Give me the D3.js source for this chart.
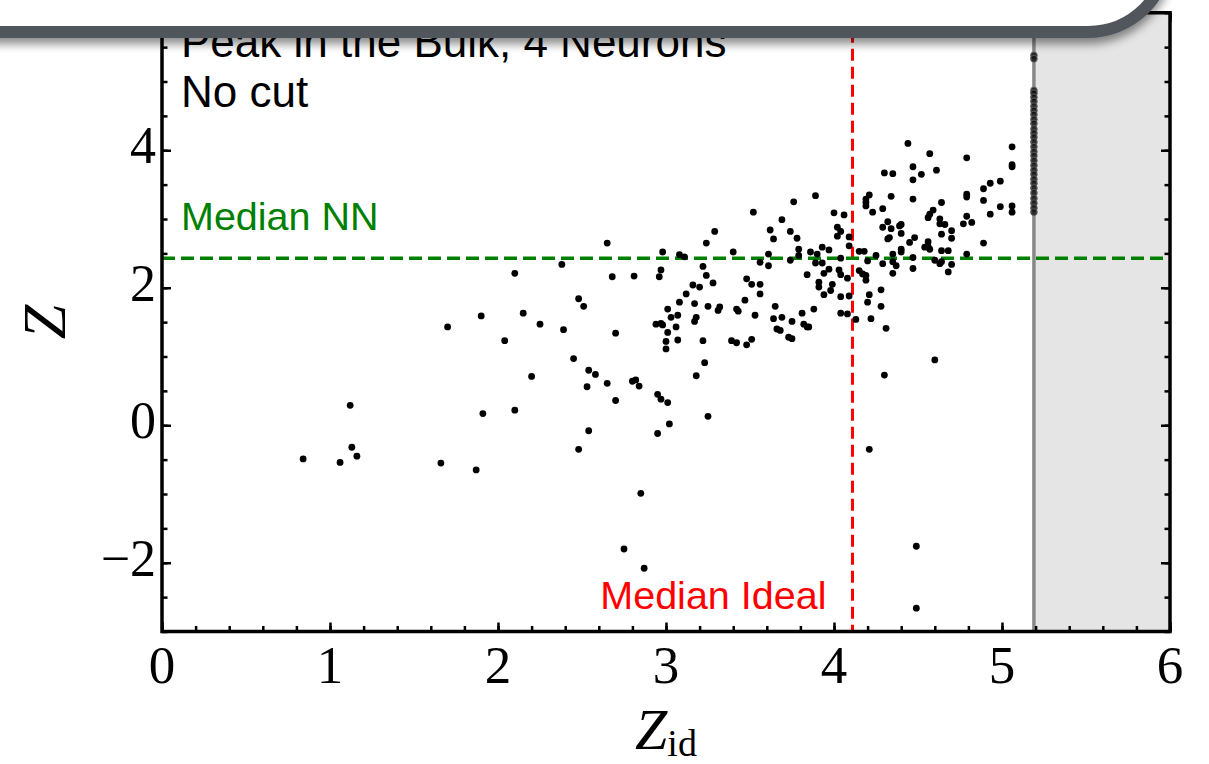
<!DOCTYPE html>
<html>
<head>
<meta charset="utf-8">
<script src="https://cdn.jsdelivr.net/npm/d3@7"></script>
<style>
  html, body { margin: 0; padding: 0; background: #fff; }
  svg { display: block; }
</style>
</head>
<body>
<svg id="chart" width="1209" height="764"></svg>
<script>
// Ideal significance (Z_id) of each sample
const zIdeal = [
  0.84, 1.06, 1.12, 1.13, 1.16, 1.66, 1.70, 1.87, 1.90, 1.91,
  2.45, 2.20, 2.54, 2.58, 2.53, 2.65, 2.80, 2.82, 2.84, 2.70, 2.95, 2.97, 3.01, 2.10,
  3.18, 3.23, 3.25, 3.02, 2.95, 2.54, 2.48, 2.85, 2.75, 2.87, 4.30, 4.21, 4.49, 4.49,
  3.89, 3.76, 3.52, 3.69, 4.00, 4.06, 3.29, 3.62, 3.74, 4.02, 4.04, 4.02, 4.09, 3.64,
  3.78, 4.09, 3.24, 2.65, 3.79, 3.93, 3.97, 2.98, 3.40, 3.86, 3.90, 3.61, 3.08, 3.11,
  3.79, 3.74, 3.56, 3.89, 3.93, 3.61, 4.04, 2.38, 3.22, 2.10, 3.97, 4.03, 3.94, 2.97,
  2.96, 2.68, 2.81, 3.24, 3.48, 3.84, 4.04, 4.08, 3.28, 3.51, 3.56, 3.91, 3.91, 3.99,
  3.16, 3.20, 3.98, 3.94, 3.56, 3.12, 4.04, 4.09, 2.48, 2.51, 3.47, 3.08, 3.17, 3.25,
  3.32, 3.31, 3.65, 3.42, 3.43, 3.88, 3.01, 2.15, 3.81, 4.04, 4.08, 3.53, 3.07, 3.03,
  3.18, 3.17, 3.64, 3.69, 3.75, 2.25, 2.94, 2.97, 2.98, 3.06, 3.82, 3.84, 3.85, 2.39,
  3.66, 3.68, 2.70, 3.01, 2.04, 3.00, 3.07, 3.22, 3.39, 3.42, 3.51, 3.48, 3.73, 3.75,
  3.00,
  4.44, 4.57, 5.06, 4.79, 4.47, 5.06, 5.06, 4.61, 4.30, 4.35, 4.52, 4.47, 4.99, 4.93,
  4.89, 4.79, 4.79, 4.21, 4.19, 4.34, 4.47, 4.19, 4.19, 4.64, 4.89, 4.99, 5.06, 5.06,
  4.29, 4.23, 4.59, 4.57, 4.56, 4.93, 4.79, 4.63, 4.32, 4.40, 4.39, 4.63, 4.66, 4.82,
  4.77, 4.29, 4.34, 4.70, 4.40, 4.64, 4.33, 4.32, 4.48, 4.70, 4.45, 4.89, 4.56, 4.56,
  4.54, 4.57, 4.40, 4.15, 4.18, 4.40, 4.64, 4.68, 4.35, 4.79, 4.25, 4.47, 4.20, 4.29,
  4.35, 4.37, 4.60, 4.63, 4.64, 4.70, 4.47, 4.15, 4.17, 4.19, 4.19, 4.35, 4.68, 4.28,
  4.21, 4.20, 4.28, 4.13, 4.22, 4.31, 4.60
];

// Significance reached by the network (Z) for the same samples
const zNet = [
  -0.49, -0.54, 0.29, -0.32, -0.45, -0.55, 1.43, -0.65, 1.59, 0.17,
  0.97, 0.71, 0.80, 0.74, 0.56, 0.61, 0.64, 0.66, 0.57, 0.36, 0.45, 0.38, 0.33, 0.22,
  0.72, 0.91, 0.13, 0.02, -0.12, -0.08, -0.35, -0.99, -1.80, -2.08, 0.73, -0.35, -1.76, -2.66,
  3.34, 3.25, 3.10, 2.99, 3.09, 3.06, 2.82, 2.84, 2.82, 2.88, 2.82, 2.75, 2.74, 2.71,
  2.72, 2.61, 2.65, 2.65, 2.56, 2.59, 2.55, 2.52, 2.52, 2.52, 2.49, 2.49, 2.48, 2.45,
  2.47, 2.40, 2.37, 2.36, 2.36, 2.32, 2.43, 2.34, 2.31, 2.21, 2.27, 2.26, 2.21, 2.26,
  2.16, 2.16, 2.17, 2.18, 2.13, 2.19, 2.19, 2.14, 2.07, 2.05, 2.05, 2.08, 2.01, 2.05,
  2.04, 2.01, 1.96, 1.90, 1.91, 1.91, 1.87, 1.88, 1.84, 1.73, 1.82, 1.79, 1.77, 1.73,
  1.72, 1.67, 1.73, 1.69, 1.66, 1.69, 1.69, 1.63, 1.63, 1.63, 1.62, 1.60, 1.60, 1.57,
  1.57, 1.51, 1.55, 1.57, 1.51, 1.47, 1.47, 1.48, 1.46, 1.43, 1.47, 1.43, 1.43, 1.39,
  1.40, 1.38, 1.34, 1.35, 1.23, 1.22, 1.24, 1.23, 1.23, 1.20, 1.25, 1.17, 1.28, 1.26,
  1.11,
  4.10, 3.95, 4.05, 3.89, 3.76, 3.79, 3.76, 3.71, 3.67, 3.66, 3.65, 3.57, 3.55, 3.52,
  3.44, 3.36, 3.32, 3.35, 3.29, 3.33, 3.29, 3.24, 3.19, 3.24, 3.27, 3.18, 3.19, 3.10,
  3.15, 3.10, 3.13, 3.07, 3.02, 3.07, 3.04, 3.00, 2.96, 2.92, 2.90, 2.93, 2.92, 2.95,
  2.93, 2.88, 2.86, 2.83, 2.79, 2.78, 2.73, 2.71, 2.73, 2.72, 2.66, 2.65, 2.67, 2.60,
  2.59, 2.56, 2.56, 2.53, 2.53, 2.52, 2.54, 2.54, 2.49, 2.49, 2.47, 2.44, 2.39, 2.35,
  2.38, 2.32, 2.40, 2.35, 2.38, 2.34, 2.28, 2.25, 2.20, 2.18, 2.11, 2.21, 2.23, 1.97,
  1.90, 1.79, 1.73, 1.54, 1.55, 1.41, 0.95
];

// Samples whose Z_id lies beyond the cut: drawn stacked on the cut line
const zNetAtCut = [
  5.38, 5.33, 4.87, 4.83, 4.77, 4.71, 4.64, 4.58, 4.52, 4.45, 4.39, 4.31, 4.25, 4.19,
  4.12, 4.05, 3.98, 3.92, 3.85, 3.78, 3.71, 3.65, 3.58, 3.52, 3.45, 3.38, 3.30, 3.23,
  3.16, 3.10
];

const zIdealCut = 5.19;
const medianIdeal = 4.11;
const medianNN = 2.43;

const xDomain = [0, 6];
const yDomain = [-3, 6];
const xMajor = [0, 1, 2, 3, 4, 5, 6];
const xMinor = d3.range(0, 6.001, 0.2);
const yMajor = [-2, 0, 2, 4];
const yMinor = d3.range(-3, 6.001, 0.5);

const titleLines = ["Peak in the Bulk, 4 Neurons", "No cut"];

const svg = d3.select("#chart");
const pL = 162, pR = 1170, pT = 12.75, pB = 631.5;

const x = d3.scaleLinear().domain(xDomain).range([pL, pR]);
const y = d3.scaleLinear().domain(yDomain).range([pB, pT]);

const defs = svg.append("defs");
defs.append("clipPath").attr("id", "plot-clip")
  .append("rect").attr("x", pL).attr("y", pT)
  .attr("width", pR - pL).attr("height", pB - pT);
const shadow = defs.append("filter").attr("id", "drop")
  .attr("x", "-10%").attr("y", "-10%").attr("width", "120%").attr("height", "150%");
shadow.append("feDropShadow").attr("dx", 0).attr("dy", 6)
  .attr("stdDeviation", 5).attr("flood-color", "#000").attr("flood-opacity", 0.45);

const plot = svg.append("g").attr("clip-path", "url(#plot-clip)");

// excluded region beyond the cut
plot.append("rect")
  .attr("x", x(zIdealCut)).attr("y", pT)
  .attr("width", x(6) - x(zIdealCut)).attr("height", pB - pT)
  .attr("fill", "#e5e5e5");
plot.append("line")
  .attr("x1", x(zIdealCut)).attr("x2", x(zIdealCut))
  .attr("y1", pT).attr("y2", pB)
  .attr("stroke", "#888").attr("stroke-width", 3.5);

// median lines
plot.append("line")
  .attr("x1", x(medianIdeal)).attr("x2", x(medianIdeal))
  .attr("y1", pT).attr("y2", pB)
  .attr("stroke", "#ff0000").attr("stroke-width", 3)
  .attr("stroke-dasharray", "12,6");
plot.append("line")
  .attr("x1", pL).attr("x2", pR)
  .attr("y1", y(medianNN)).attr("y2", y(medianNN))
  .attr("stroke", "#008000").attr("stroke-width", 3.5)
  .attr("stroke-dasharray", "13,6");

// points
const pts = zIdeal.map((v, i) => [v, zNet[i]]);
plot.append("g").selectAll("circle").data(pts).join("circle")
  .attr("cx", d => x(d[0])).attr("cy", d => y(d[1]))
  .attr("r", 3.4).attr("fill", "#000");
plot.append("g").selectAll("circle").data(zNetAtCut).join("circle")
  .attr("cx", x(zIdealCut)).attr("cy", d => y(d))
  .attr("r", 3.4).attr("fill", "#111").attr("fill-opacity", 0.8)
  .attr("stroke", "#666").attr("stroke-width", 0.8);

// frame and ticks (pointing inward)
function tickAxis(axisFn, scale, values, size, transform) {
  svg.append("g").attr("transform", transform)
    .call(axisFn(scale).tickValues(values).tickSize(-size).tickFormat(""))
    .call(g => g.select(".domain").remove())
    .call(g => g.selectAll(".tick line").attr("stroke", "#000").attr("stroke-width", 2.5));
}
tickAxis(d3.axisBottom, x, xMinor, 5.5, `translate(0,${pB})`);
tickAxis(d3.axisBottom, x, xMajor, 9, `translate(0,${pB})`);
tickAxis(d3.axisTop, x, xMinor, 5.5, `translate(0,${pT})`);
tickAxis(d3.axisTop, x, xMajor, 9, `translate(0,${pT})`);
tickAxis(d3.axisLeft, y, yMinor, 5.5, `translate(${pL},0)`);
tickAxis(d3.axisLeft, y, yMajor, 9, `translate(${pL},0)`);
tickAxis(d3.axisRight, y, yMinor, 5.5, `translate(${pR},0)`);
tickAxis(d3.axisRight, y, yMajor, 9, `translate(${pR},0)`);

svg.append("rect")
  .attr("x", pL).attr("y", pT)
  .attr("width", pR - pL).attr("height", pB - pT)
  .attr("fill", "none").attr("stroke", "#000").attr("stroke-width", 3.5);

// tick labels
const fmt = v => (v < 0 ? "\u2212" + Math.abs(v) : String(v));
svg.append("g").selectAll("text").data(xMajor).join("text")
  .attr("x", d => x(d)).attr("y", pB + 51)
  .attr("text-anchor", "middle")
  .attr("font-family", "'Liberation Serif', 'Times New Roman', serif")
  .attr("font-size", 53).text(fmt);
svg.append("g").selectAll("text").data(yMajor).join("text")
  .attr("x", pL - 6).attr("y", d => y(d) + 13)
  .attr("text-anchor", "end")
  .attr("font-family", "'Liberation Serif', 'Times New Roman', serif")
  .attr("font-size", 52).text(fmt);

// axis titles
svg.append("text")
  .attr("transform", `translate(65,${y(1.5)}) rotate(-90)`)
  .attr("text-anchor", "middle")
  .attr("font-family", "'Liberation Serif', 'Times New Roman', serif")
  .attr("font-style", "italic").attr("font-size", 62)
  .text("Z");
const xt = svg.append("text")
  .attr("x", x(3)).attr("y", 749)
  .attr("text-anchor", "middle")
  .attr("font-family", "'Liberation Serif', 'Times New Roman', serif")
  .attr("font-size", 58);
xt.append("tspan").attr("font-style", "italic").text("Z");
xt.append("tspan").attr("font-size", 38).attr("dy", 7).text("id");

// annotations
svg.append("text")
  .attr("x", 181).attr("y", y(medianNN) - 28)
  .attr("font-family", "'Liberation Sans', Arial, sans-serif")
  .attr("font-size", 39.5).attr("fill", "#008000")
  .text("Median NN");
svg.append("text")
  .attr("x", x(medianIdeal) - 26).attr("y", 609)
  .attr("text-anchor", "end")
  .attr("font-family", "'Liberation Sans', Arial, sans-serif")
  .attr("font-size", 39.5).attr("fill", "#ff0000")
  .text("Median Ideal");
svg.append("g").selectAll("text").data(titleLines).join("text")
  .attr("x", 181).attr("y", (d, i) => 57 + i * 50)
  .attr("font-family", "'Liberation Sans', Arial, sans-serif")
  .attr("font-size", 44).attr("fill", "#000")
  .text(d => d);

// rounded panel overlapping the top edge
svg.append("rect")
  .attr("x", -200).attr("y", -300)
  .attr("width", 1368).attr("height", 332)
  .attr("rx", 80).attr("ry", 80)
  .attr("fill", "#fff").attr("stroke", "#51565d").attr("stroke-width", 12)
  .attr("filter", "url(#drop)");
</script>
</body>
</html>
